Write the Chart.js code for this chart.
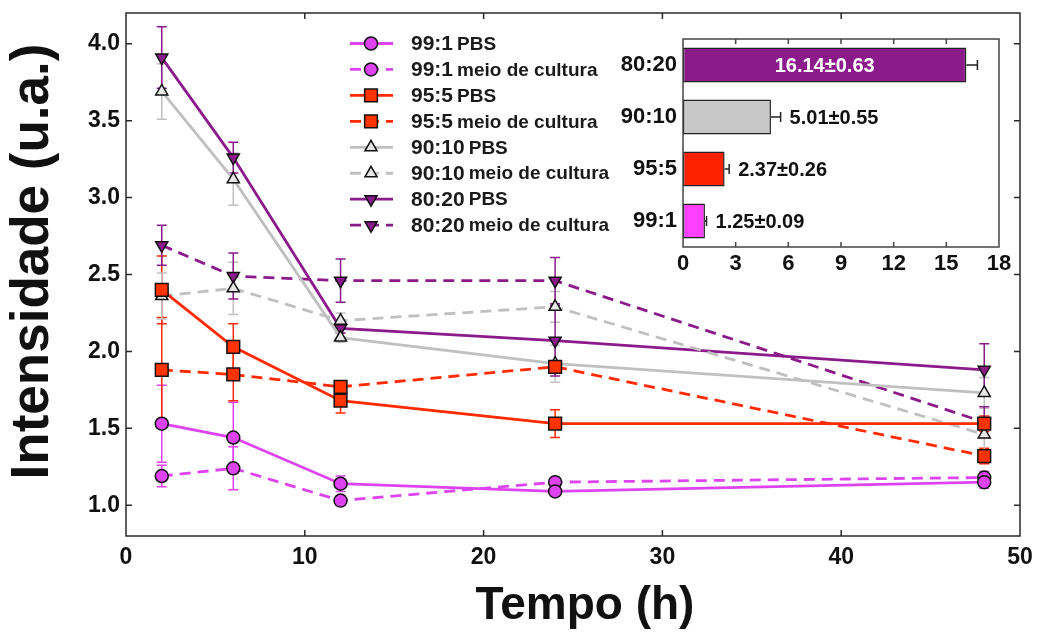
<!DOCTYPE html>
<html>
<head>
<meta charset="utf-8">
<title>Intensidade x Tempo</title>
<script src="https://cdn.jsdelivr.net/npm/chart.js@4.4.1/dist/chart.umd.min.js"></script>
<style>
  html, body { margin: 0; padding: 0; background: #fff; }
  #wrap { position: relative; width: 1039px; height: 639px; }
  #main { position: absolute; left: 0; top: 0; }
  #inset { position: absolute; left: 620px; top: 30px; }
</style>
</head>
<body>
<div id="wrap">
  <canvas id="main" width="1039" height="639"></canvas>
  <canvas id="inset" width="400" height="245"></canvas>
</div>
<script>
  // Sampling times (h) and axis ticks
  const timeH = [2, 6, 12, 24, 48];
  const xTickVals = [0, 10, 20, 30, 40, 50];
  const yTickVals = [1.0, 1.5, 2.0, 2.5, 3.0, 3.5, 4.0];

  // Mean intensity (u.a.) per formulation, in PBS and in culture medium
  const pbs99 = [1.53, 1.44, 1.14, 1.09, 1.15];
  const meio99 = [1.19, 1.24, 1.03, 1.15, 1.18];
  const pbs95 = [2.40, 2.03, 1.68, 1.53, 1.53];
  const meio95 = [1.88, 1.85, 1.77, 1.90, 1.32];
  const pbs90 = [3.69, 3.12, 2.09, 1.92, 1.73];
  const meio90 = [2.36, 2.41, 2.20, 2.29, 1.46];
  const pbs80 = [3.91, 3.26, 2.15, 2.07, 1.88];
  const meio80 = [2.69, 2.49, 2.46, 2.46, 1.54];

  // Error bars (±)
  const errPbs99 = [0.25, 0.23, 0.05, 0.03, 0.04];
  const errMeio99 = [0.07, 0.14, 0.02, 0.03, 0.04];
  const errPbs95 = [0.22, 0.15, 0.08, 0.09, 0.05];
  const errMeio95 = [0.34, 0.17, 0.03, 0.04, 0.05];
  const errPbs90 = [0.18, 0.17, 0.03, 0.12, 0.10];
  const errMeio90 = [0.15, 0.17, 0.05, 0.10, 0.10];
  const errPbs80 = [0.20, 0.10, 0.03, 0.23, 0.17];
  const errMeio80 = [0.13, 0.15, 0.14, 0.15, 0.10];

  // Inset bar chart
  const insetLabels = ['80:20', '90:10', '95:5', '99:1'];
  const insetValues = [16.14, 5.01, 2.37, 1.25];
  const insetErrors = [0.63, 0.55, 0.26, 0.09];
  const insetTicks = [0, 3, 6, 9, 12, 15, 18];

  const FONT = '"Liberation Sans", Arial, Helvetica, sans-serif';
  const COL99 = '#dd44f0';
  const COL95 = '#ff2a00';
  const COL90 = '#c0c0c0';
  const COL80 = '#8b1a8b';

  /**
   * Build one line dataset with its marker style and error values
   */
  function makeSeries(ratio, medium, values, errors, color, fill, style, radius, rotation, dashed) {
    return {
      label: ratio + ' ' + medium,
      ratio: ratio,
      medium: medium,
      errors: errors,
      data: timeH.map((t, i) => ({ x: t, y: values[i] })),
      borderColor: color,
      backgroundColor: fill,
      borderWidth: 2.8,
      borderDash: dashed ? [11, 7] : [],
      tension: 0,
      pointStyle: style,
      pointRotation: rotation,
      pointRadius: radius,
      pointBackgroundColor: fill,
      pointBorderColor: '#111',
      pointBorderWidth: 1.5
    };
  }

  const series = [
    makeSeries('99:1', 'PBS', pbs99, errPbs99, COL99, COL99, 'circle', 6.5, 0, false),
    makeSeries('99:1', 'meio de cultura', meio99, errMeio99, COL99, COL99, 'circle', 6.5, 0, true),
    makeSeries('95:5', 'PBS', pbs95, errPbs95, COL95, '#ff3300', 'rect', 9, 0, false),
    makeSeries('95:5', 'meio de cultura', meio95, errMeio95, COL95, '#ff3300', 'rect', 9, 0, true),
    makeSeries('90:10', 'PBS', pbs90, errPbs90, COL90, '#e6e6e6', 'triangle', 7, 0, false),
    makeSeries('90:10', 'meio de cultura', meio90, errMeio90, COL90, '#e6e6e6', 'triangle', 7, 0, true),
    makeSeries('80:20', 'PBS', pbs80, errPbs80, COL80, COL80, 'triangle', 7, 180, false),
    makeSeries('80:20', 'meio de cultura', meio80, errMeio80, COL80, COL80, 'triangle', 7, 180, true)
  ];

  /**
   * Draw a marker the same way as the dataset points (used by the legend)
   */
  function drawMarker(ctx, ds, x, y) {
    const r = ds.pointRadius;
    ctx.save();
    ctx.setLineDash([]);
    ctx.fillStyle = ds.pointBackgroundColor;
    ctx.strokeStyle = ds.pointBorderColor;
    ctx.lineWidth = ds.pointBorderWidth;
    ctx.beginPath();
    if (ds.pointStyle === 'circle') {
      ctx.arc(x, y, r, 0, Math.PI * 2);
    } else if (ds.pointStyle === 'rect') {
      const s = r * Math.SQRT1_2;
      ctx.rect(x - s, y - s, 2 * s, 2 * s);
    } else {
      let a = (ds.pointRotation || 0) * Math.PI / 180;
      for (let k = 0; k < 3; k++) {
        const px = x + Math.sin(a) * r;
        const py = y - Math.cos(a) * r;
        if (k === 0) ctx.moveTo(px, py); else ctx.lineTo(px, py);
        a += 2 * Math.PI / 3;
      }
      ctx.closePath();
    }
    ctx.fill();
    ctx.stroke();
    ctx.restore();
  }

  /**
   * Box around the plot area with inward tick marks
   */
  function makeFrame(xTicks, yTicks, len, color) {
    return {
      id: 'frame',
      afterDraw(chart) {
        const { ctx, chartArea: a, scales } = chart;
        ctx.save();
        ctx.strokeStyle = color;
        ctx.lineWidth = 1.5;
        ctx.setLineDash([]);
        ctx.strokeRect(a.left, a.top, a.right - a.left, a.bottom - a.top);
        ctx.beginPath();
        xTicks.forEach(v => {
          const px = scales.x.getPixelForValue(v);
          ctx.moveTo(px, a.bottom); ctx.lineTo(px, a.bottom - len);
          ctx.moveTo(px, a.top); ctx.lineTo(px, a.top + len);
        });
        yTicks.forEach(v => {
          const py = scales.y.getPixelForValue(v);
          ctx.moveTo(a.left, py); ctx.lineTo(a.left + len, py);
          ctx.moveTo(a.right, py); ctx.lineTo(a.right - len, py);
        });
        ctx.stroke();
        ctx.restore();
      }
    };
  }

  // Fixed axis sizes; drop the label overhang padding so the plot box keeps its place
  function fixVertical(width) {
    return s => { s.width = width; s.paddingTop = 0; s.paddingBottom = 0; };
  }
  function fixHorizontal(height) {
    return s => { s.height = height; s.paddingLeft = 0; s.paddingRight = 0; };
  }

  // Vertical error bars behind the markers
  const errorBars = {
    id: 'errorBars',
    beforeDatasetsDraw(chart) {
      const { ctx, scales: { x, y } } = chart;
      ctx.save();
      ctx.setLineDash([]);
      ctx.lineWidth = 1.5;
      chart.data.datasets.forEach(ds => {
        ctx.strokeStyle = ds.borderColor;
        ds.data.forEach((p, i) => {
          const e = ds.errors[i];
          const px = x.getPixelForValue(p.x);
          const top = y.getPixelForValue(p.y + e);
          const bot = y.getPixelForValue(p.y - e);
          ctx.beginPath();
          ctx.moveTo(px, top); ctx.lineTo(px, bot);
          ctx.moveTo(px - 5, top); ctx.lineTo(px + 5, top);
          ctx.moveTo(px - 5, bot); ctx.lineTo(px + 5, bot);
          ctx.stroke();
        });
      });
      ctx.restore();
    }
  };

  // Legend drawn inside the plot area
  const innerLegend = {
    id: 'innerLegend',
    afterDraw(chart) {
      const ctx = chart.ctx;
      const x0 = 350, x1 = 393, xm = 371, xt = 411;
      const top = 43.5, step = 25.95;
      ctx.save();
      chart.data.datasets.forEach((ds, i) => {
        const y = top + i * step;
        ctx.strokeStyle = ds.borderColor;
        ctx.lineWidth = ds.borderWidth;
        ctx.setLineDash(ds.borderDash);
        ctx.beginPath();
        ctx.moveTo(x0, y); ctx.lineTo(x1, y);
        ctx.stroke();
        drawMarker(ctx, ds, xm, y);
        ctx.fillStyle = '#1a1a1a';
        ctx.textAlign = 'left';
        ctx.textBaseline = 'middle';
        ctx.font = 'bold 21px ' + FONT;
        ctx.fillText(ds.ratio, xt, y + 1);
        const w = ctx.measureText(ds.ratio).width;
        ctx.font = 'bold 19px ' + FONT;
        ctx.fillText(ds.medium, xt + w + 4, y + 1);
      });
      ctx.restore();
    }
  };

  // Axis titles
  const axisTitles = {
    id: 'axisTitles',
    afterDraw(chart) {
      const { ctx, chartArea: a } = chart;
      ctx.save();
      ctx.fillStyle = '#111';
      ctx.textAlign = 'center';
      ctx.textBaseline = 'middle';
      ctx.font = 'bold 46px ' + FONT;
      ctx.fillText('Tempo (h)', (a.left + a.right) / 2 + 12, 606);
      ctx.translate(33, (a.top + a.bottom) / 2 - 13);
      ctx.rotate(-Math.PI / 2);
      ctx.font = 'bold 53px ' + FONT;
      ctx.fillText('Intensidade (u.a.)', 0, 0);
      ctx.restore();
    }
  };

  new Chart(document.getElementById('main'), {
    type: 'line',
    data: { datasets: series },
    options: {
      responsive: false,
      animation: false,
      layout: { padding: { top: 13, right: 19, left: 0, bottom: 0 } },
      plugins: { legend: { display: false }, tooltip: { enabled: false } },
      scales: {
        x: {
          type: 'linear',
          min: 0,
          max: 50,
          afterBuildTicks: s => { s.ticks = xTickVals.map(v => ({ value: v })); },
          afterFit: fixHorizontal(103),
          grid: { display: false, drawTicks: false },
          border: { display: false },
          ticks: { padding: 8, color: '#111', font: { family: FONT, size: 23, weight: 'bold' } }
        },
        y: {
          type: 'linear',
          min: 0.8,
          max: 4.2,
          afterBuildTicks: s => { s.ticks = yTickVals.map(v => ({ value: v })); },
          afterFit: fixVertical(126),
          grid: { display: false, drawTicks: false },
          border: { display: false },
          ticks: {
            padding: 6,
            color: '#111',
            font: { family: FONT, size: 23, weight: 'bold' },
            callback: v => Number(v).toFixed(1)
          }
        }
      }
    },
    plugins: [errorBars, makeFrame(xTickVals.slice(1, -1), yTickVals, 6, '#2a2a2a'), innerLegend, axisTitles]
  });

  // Inset: error bars and value labels on the bars
  const insetAnnot = {
    id: 'insetAnnot',
    afterDatasetsDraw(chart) {
      const { ctx, scales: { x } } = chart;
      const meta = chart.getDatasetMeta(0);
      const zero = x.getPixelForValue(0);
      ctx.save();
      meta.data.forEach((bar, i) => {
        const v = insetValues[i];
        const e = insetErrors[i];
        const x0 = x.getPixelForValue(v);
        const x1 = x.getPixelForValue(v + e);
        const py = bar.y;
        ctx.strokeStyle = '#222';
        ctx.lineWidth = 1.5;
        ctx.beginPath();
        ctx.moveTo(x0, py); ctx.lineTo(x1, py);
        ctx.moveTo(x1, py - 5); ctx.lineTo(x1, py + 5);
        ctx.stroke();
        const txt = v.toFixed(2) + '±' + e.toFixed(2);
        ctx.font = 'bold 20px ' + FONT;
        ctx.textBaseline = 'middle';
        if (x0 - zero > 150) {
          ctx.fillStyle = '#fff';
          ctx.textAlign = 'center';
          ctx.fillText(txt, (zero + x0) / 2, py + 1);
        } else {
          ctx.fillStyle = '#111';
          ctx.textAlign = 'left';
          ctx.fillText(txt, x1 + 9, py + 1);
        }
      });
      ctx.restore();
    }
  };

  new Chart(document.getElementById('inset'), {
    type: 'bar',
    data: {
      labels: insetLabels,
      datasets: [{
        data: insetValues,
        backgroundColor: ['#8b1a8b', '#c8c8c8', '#ff2200', '#ff40ff'],
        borderColor: '#222',
        borderWidth: 1.5,
        borderSkipped: false,
        categoryPercentage: 1,
        barPercentage: 0.67
      }]
    },
    options: {
      indexAxis: 'y',
      responsive: false,
      animation: false,
      layout: { padding: { top: 9, right: 21, left: 0, bottom: 0 } },
      plugins: { legend: { display: false }, tooltip: { enabled: false } },
      scales: {
        x: {
          type: 'linear',
          min: 0,
          max: 18,
          afterBuildTicks: s => { s.ticks = insetTicks.map(v => ({ value: v })); },
          afterFit: fixHorizontal(28),
          grid: { display: false, drawTicks: false },
          border: { display: false },
          ticks: { padding: 4, color: '#111', font: { family: FONT, size: 22, weight: 'bold' } }
        },
        y: {
          afterFit: fixVertical(63),
          grid: { display: false, drawTicks: false },
          border: { display: false },
          ticks: { padding: 6, color: '#111', font: { family: FONT, size: 22, weight: 'bold' } }
        }
      }
    },
    plugins: [insetAnnot, makeFrame(insetTicks.slice(1, -1), [], 5, '#444')]
  });
</script>
</body>
</html>
